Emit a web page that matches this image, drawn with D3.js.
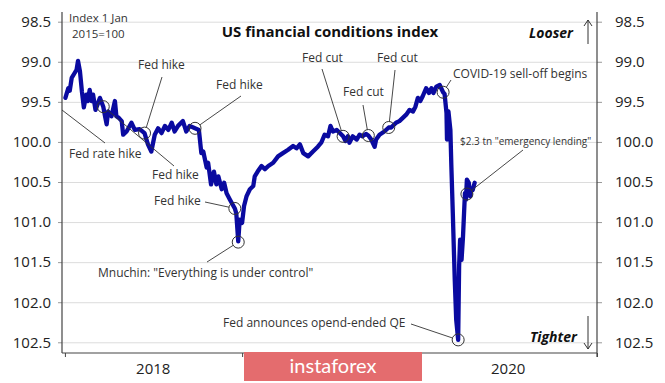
<!DOCTYPE html>
<html>
<head>
<meta charset="utf-8">
<script src="https://cdn.jsdelivr.net/npm/d3@7"></script>
<style>
  html, body { margin: 0; padding: 0; background: #fff; }
  svg { display: block; font-family: "Open Sans", "Noto Sans", sans-serif; }
</style>
</head>
<body>
<svg id="chart" width="665" height="383"></svg>
<script>
// ---------------- DATA ----------------
const dates = [
  "2018-01-02","2018-01-08","2018-01-11","2018-01-15","2018-01-21","2018-01-25","2018-01-28","2018-02-01",
  "2018-02-05","2018-02-09","2018-02-14","2018-02-17","2018-02-21","2018-02-25","2018-02-28","2018-03-05",
  "2018-03-10","2018-03-14","2018-03-21","2018-03-24","2018-03-28","2018-03-31","2018-04-07","2018-04-14",
  "2018-04-17","2018-04-22","2018-04-28","2018-05-01","2018-05-08","2018-05-18","2018-05-25","2018-06-04",
  "2018-06-14","2018-06-21","2018-06-28","2018-07-05","2018-07-12","2018-07-19","2018-07-26","2018-08-02",
  "2018-08-09","2018-08-15","2018-08-22","2018-09-01","2018-09-08","2018-09-15","2018-09-26","2018-10-04",
  "2018-10-09","2018-10-13","2018-10-20","2018-10-23","2018-10-29","2018-11-04","2018-11-09","2018-11-13",
  "2018-11-20","2018-11-25","2018-11-30","2018-12-07","2018-12-17","2018-12-20","2018-12-24","2018-12-27",
  "2019-01-01","2019-01-05","2019-01-10","2019-01-17","2019-01-24","2019-01-27","2019-02-02","2019-02-10",
  "2019-02-17","2019-02-24","2019-03-06","2019-03-16","2019-03-26","2019-04-05","2019-04-16","2019-04-23",
  "2019-04-30","2019-05-07","2019-05-17","2019-05-27","2019-06-06","2019-06-13","2019-06-20","2019-06-27",
  "2019-07-02","2019-07-07","2019-07-15","2019-07-28","2019-08-02","2019-08-07","2019-08-10","2019-08-17",
  "2019-08-25","2019-08-31","2019-09-06","2019-09-13","2019-09-18","2019-09-24","2019-10-01","2019-10-04",
  "2019-10-11","2019-10-21","2019-10-30","2019-11-04","2019-11-14","2019-11-21","2019-11-28","2019-12-05",
  "2019-12-12","2019-12-19","2019-12-24","2019-12-29","2020-01-03","2020-01-08","2020-01-15","2020-01-21",
  "2020-01-26","2020-01-30","2020-02-05","2020-02-12","2020-02-19","2020-02-22","2020-02-26","2020-02-27",
  "2020-03-01","2020-03-05","2020-03-07","2020-03-10","2020-03-14","2020-03-17","2020-03-21","2020-03-23",
  "2020-03-25","2020-03-28","2020-03-31","2020-04-04","2020-04-06","2020-04-08","2020-04-12","2020-04-15",
  "2020-04-17","2020-04-20","2020-04-24"
];
const values = [
  99.45,99.33,99.36,99.20,99.14,99.10,98.99,99.12,
  99.37,99.57,99.41,99.49,99.35,99.49,99.41,99.60,
  99.52,99.45,99.56,99.66,99.78,99.62,99.68,99.49,
  99.68,99.70,99.74,99.91,99.87,99.76,99.85,99.84,
  99.89,100.03,100.12,99.91,99.83,99.89,99.80,99.85,
  99.76,99.87,99.80,99.74,99.87,99.80,99.83,99.85,
  100.14,100.12,100.32,100.26,100.53,100.37,100.53,100.43,
  100.59,100.51,100.64,100.72,100.83,100.89,101.24,100.97,
  101.01,100.80,100.68,100.59,100.55,100.43,100.37,100.30,
  100.34,100.30,100.26,100.18,100.14,100.10,100.05,100.08,
  100.03,100.14,100.18,100.12,100.06,100.01,99.91,99.93,
  99.80,99.87,99.85,99.93,99.99,99.93,100.01,99.93,
  99.97,99.91,99.93,99.90,99.92,99.97,100.06,99.97,
  99.91,99.87,99.82,99.82,99.76,99.74,99.70,99.66,
  99.60,99.62,99.56,99.45,99.49,99.43,99.33,99.39,
  99.33,99.39,99.31,99.29,99.38,99.40,99.64,99.97,
  99.62,99.85,100.30,100.89,101.72,102.22,102.47,101.55,
  101.22,101.47,101.18,100.64,100.72,100.47,100.51,100.68,
  100.59,100.60,100.51
];
const yTicks = [98.5, 99.0, 99.5, 100.0, 100.5, 101.0, 101.5, 102.0, 102.5];
const yearTicks = ["2018-01-01", "2019-01-01", "2020-01-01", "2021-01-01"];
const yearLabels = ["2018", "2020"];
const yearLabelDates = ["2018-07-02", "2020-07-02"];

// annotation events: circle at (date, value)
const annotDates  = ["2018-03-21","2018-06-14","2018-09-26","2018-12-17","2018-12-24","2019-07-28","2019-09-18","2019-10-30","2020-02-19","2020-03-21","2020-04-08"];
const annotValues = [99.56, 99.89, 99.83, 100.83, 101.25, 99.93, 99.92, 99.82, 99.38, 102.47, 100.65];
const annotTexts  = ["Fed hike","Fed hike","Fed hike","Fed hike",'Mnuchin: "Everything is under control"',"Fed cut","Fed cut","Fed cut","COVID-19 sell-off begins","Fed announces opend-ended QE",'$2.3 tn "emergency lending"'];

// ---------------- LAYOUT ----------------
const L = 62, R = 597, TOP = 12, BOT = 353;
// label placement: [textX, textBaselineY, leaderStartX, leaderStartY, fontSize]
const labelLayout = [
  [152, 179, 174, 166, 12],
  [138, 69, 162, 77, 12],
  [216, 89, 241, 96, 12],
  [154, 205, 205, 202, 12],
  [98, 277, 207, 262, 12],
  [302, 61.5, 322, 69, 12],
  [343, 96, 363, 105, 12],
  [377, 61.5, 395, 70, 12],
  [453, 78, 451, 80, 12],
  [223, 327, 411, 324, 12],
  [460, 145, 523, 150, 10]
];

const svg = d3.select("#chart");
const parse = d3.utcParse("%Y-%m-%d");

const x = d3.scaleUtc()
  .domain([parse("2017-12-26"), parse("2021-01-01")])
  .range([L, R]);
const y = d3.scaleLinear().domain([98.5, 102.5]).range([21.7, 342.3]);

// gridlines
svg.append("g")
  .attr("transform", `translate(${L},0)`)
  .call(d3.axisLeft(y).tickValues(yTicks).tickSize(-(R - L)).tickFormat(""))
  .call(g => g.select(".domain").remove())
  .call(g => g.selectAll("line").attr("stroke", "#dcdcdc").attr("stroke-width", 1));

// left axis
const leftAx = svg.append("g")
  .attr("transform", `translate(${L},0)`)
  .call(d3.axisLeft(y).tickValues(yTicks).tickSize(4).tickPadding(7).tickFormat(d3.format(".1f")));
leftAx.select(".domain").remove();
leftAx.selectAll("line").attr("stroke", "#999");
leftAx.selectAll("text").attr("font-size", 15).attr("fill", "#222").attr("font-family", "'Open Sans', sans-serif");
svg.append("line").attr("x1", L).attr("x2", L).attr("y1", TOP).attr("y2", BOT)
  .attr("stroke", "#444").attr("stroke-width", 1.2);

// right axis
const rightAx = svg.append("g")
  .attr("transform", `translate(${R},0)`)
  .call(d3.axisRight(y).tickValues(yTicks).tickSize(5).tickPadding(13).tickFormat(d3.format(".1f")));
rightAx.select(".domain").remove();
rightAx.selectAll("line").attr("stroke", "#999");
rightAx.selectAll("text").attr("font-size", 15).attr("fill", "#222").attr("font-family", "'Open Sans', sans-serif");
svg.append("line").attr("x1", R).attr("x2", R).attr("y1", TOP).attr("y2", BOT + 4)
  .attr("stroke", "#444").attr("stroke-width", 1.2);

// bottom axis
const botAx = svg.append("g")
  .attr("transform", `translate(0,${BOT})`)
  .call(d3.axisBottom(x).tickValues(yearTicks.map(parse)).tickSize(4).tickFormat(""));
botAx.select(".domain").attr("d", `M${L},0H${R}`).attr("stroke", "#444").attr("stroke-width", 1.2);
botAx.selectAll("line").attr("stroke", "#444");
svg.append("g").selectAll("text")
  .data(yearLabels)
  .join("text")
  .attr("x", (d, i) => x(parse(yearLabelDates[i])))
  .attr("y", 374)
  .attr("text-anchor", "middle")
  .attr("font-size", 15)
  .attr("fill", "#222")
  .text(d => d);

// the series line
const series = dates.map((d, i) => ({ date: parse(d), value: values[i] }));
svg.append("path")
  .datum(series)
  .attr("fill", "none")
  .attr("stroke", "#0a0aa0")
  .attr("stroke-width", 4.3)
  .attr("stroke-linejoin", "round")
  .attr("stroke-linecap", "round")
  .attr("d", d3.line().x(d => x(d.date)).y(d => y(d.value)));

// annotations
const ann = svg.append("g");
const r = 6;
// "Fed rate hike" (Dec 2017, outside plotted range)
ann.append("line").attr("x1", L).attr("y1", 110).attr("x2", 105).attr("y2", 143)
  .attr("stroke", "#333").attr("stroke-width", 0.9);
ann.append("text").attr("x", 69).attr("y", 158).attr("font-size", 12).attr("fill", "#333").text("Fed rate hike");

annotDates.forEach((d, i) => {
  const cx = x(parse(d)), cy = y(annotValues[i]);
  const [tx, ty, lx, ly, fs] = labelLayout[i];
  const dx = cx - lx, dy = cy - ly, len = Math.hypot(dx, dy);
  ann.append("line")
    .attr("x1", lx).attr("y1", ly)
    .attr("x2", cx - dx / len * r).attr("y2", cy - dy / len * r)
    .attr("stroke", "#333").attr("stroke-width", 0.9);
  ann.append("circle").attr("cx", cx).attr("cy", cy).attr("r", r)
    .attr("fill", "none").attr("stroke", "#333").attr("stroke-width", 1);
  ann.append("text").attr("x", tx).attr("y", ty).attr("font-size", fs).attr("fill", "#333").text(annotTexts[i]);
});

// titles
svg.append("text").attr("x", 330).attr("y", 37).attr("text-anchor", "middle")
  .attr("font-size", 15).attr("font-weight", "bold").attr("fill", "#111")
  .text("US financial conditions index");
svg.append("text").attr("x", 69).attr("y", 21.5).attr("font-size", 11.5).attr("fill", "#333").text("Index 1 Jan");
svg.append("text").attr("x", 72).attr("y", 37.5).attr("font-size", 11.5).attr("fill", "#333").text("2015=100");

// looser / tighter
svg.append("text").attr("x", 573).attr("y", 38).attr("text-anchor", "end")
  .attr("font-size", 14).attr("font-weight", "bold").attr("font-style", "italic").attr("fill", "#111").text("Looser");
svg.append("text").attr("x", 577).attr("y", 342).attr("text-anchor", "end")
  .attr("font-size", 14).attr("font-weight", "bold").attr("font-style", "italic").attr("fill", "#111").text("Tighter");
function arrow(x0, yFrom, yTo) {
  const dir = yTo < yFrom ? 1 : -1;
  svg.append("path")
    .attr("d", `M${x0},${yFrom}V${yTo}M${x0 - 4},${yTo + dir * 6}L${x0},${yTo}L${x0 + 4},${yTo + dir * 6}`)
    .attr("fill", "none").attr("stroke", "#333").attr("stroke-width", 1);
}
arrow(588, 44, 20);
arrow(588, 316, 349);

// watermark banner
svg.append("rect").attr("x", 244).attr("y", 352).attr("width", 178).attr("height", 29)
  .attr("fill", "#e46c6e");
svg.append("text").attr("x", 333).attr("y", 373).attr("text-anchor", "middle")
  .attr("font-size", 20).attr("fill", "#fff").attr("font-family", "Lato, 'Open Sans', sans-serif")
  .text("instaforex");
</script>
</body>
</html>
